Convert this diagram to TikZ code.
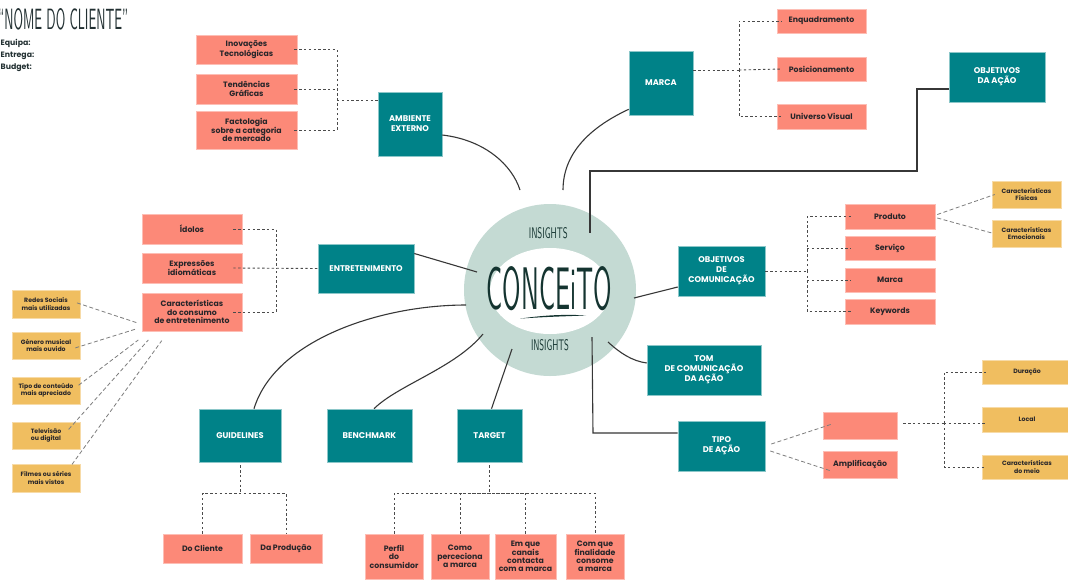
\documentclass[tikz,border=0pt]{standalone}
\usepackage{fontspec}
\setmainfont{Poppins}
\usepackage{graphicx}

\definecolor{tealc}{RGB}{0,130,136}
\definecolor{salmon}{RGB}{252,137,120}
\definecolor{mustard}{RGB}{240,190,96}
\definecolor{ringc}{RGB}{196,218,211}
\definecolor{ink}{RGB}{40,38,42}
\definecolor{headc}{RGB}{34,48,50}
\definecolor{concol}{RGB}{20,52,48}
\definecolor{linkc}{RGB}{55,55,55}
\definecolor{treec}{RGB}{75,75,75}
\definecolor{softc}{RGB}{125,125,125}

% box placed by its corners: style, name, x1, y1, x2, y2, text
\newcommand\placebox[7]{%
  \node[#1, minimum width={#5-#3}, minimum height={#6-#4}] (#2)
    at ({(#3+#5)/2},{(#4+#6)/2}) {#7};}

\begin{document}
\begin{tikzpicture}[x=1pt,y=-1pt,
  box/.style={rectangle, inner sep=0pt, align=center, line width=0.6pt},
  tealbox/.style={box, fill=tealc, draw=tealc!45!white, text=white,
    font=\fontsize{8.3}{10}\selectfont\bfseries},
  pinkbox/.style={box, fill=salmon, draw=salmon!55!white, text=ink,
    font=\fontsize{7.8}{8.4}\selectfont\bfseries},
  yelbox/.style={box, fill=mustard, draw=mustard!55!white, text=ink,
    font=\fontsize{6.2}{7.3}\selectfont\bfseries},
  link/.style={draw=linkc, line width=1.1pt},
  tree/.style={draw=treec, line width=0.9pt, dash pattern=on 2.4pt off 2.4pt},
  softdash/.style={draw=softc, line width=0.8pt, dash pattern=on 4pt off 2.5pt},
  hand/.style={inner sep=0pt, text=concol},
  headline/.style={anchor=west, inner sep=0pt, text=headc,
    font=\fontsize{7.8}{9}\selectfont\bfseries}]

\useasboundingbox (0,0) rectangle (1068,579);
\fill[white] (0,0) rectangle (1068,579);

% ---- header ----
\node[hand, anchor=north west, text=headc] (title) at (-2,8)
  {\resizebox{130pt}{21pt}{\sffamily “NOME DO CLIENTE”}};
\node[headline] (equipa) at (0.5,43.3) {Equipa:};
\node[headline] (entrega) at (0.5,55.5) {Entrega:};
\node[headline] (budget) at (0.5,67.3) {Budget:};

% ---- central ring ----
\node[circle, fill=ringc, minimum size=172pt, inner sep=0pt] (ring) at (550,290) {};
\fill[white] (550,291) ellipse [x radius=60, y radius=43];
\node[hand] (conceito) at (549.2,288.3)
  {\resizebox{125pt}{43pt}{\sffamily CONCEiTO}};
\node[hand] (insTop) at (548.3,233.3)
  {\resizebox{39pt}{11pt}{\sffamily INSIGHTS}};
\node[hand] (insBot) at (550,345)
  {\resizebox{38pt}{11pt}{\sffamily INSIGHTS}};
\fill[concol] (520,318.6) .. controls (548,314.6) and (568,314.4) .. (586,315.4)
  .. controls (568,316.3) and (548,316.6) .. (520,318.6) -- cycle;

% ---- teal topic boxes ----
\placebox{tealbox}{amb}{378}{92}{442}{156}{AMBIENTE\\EXTERNO}
\placebox{tealbox}{marca}{629}{51}{693}{115}{MARCA}
\placebox{tealbox}{objacao}{949}{52}{1045}{102}{OBJETIVOS\\DA AÇÃO}
\placebox{tealbox}{entr}{318}{244}{414}{293}{ENTRETENIMENTO}
\placebox{tealbox}{objcom}{678}{246}{765}{296}{OBJETIVOS\\DE\\COMUNICAÇÃO}
\placebox{tealbox}{tom}{647}{345}{761}{395}{TOM\\DE COMUNICAÇÃO\\DA AÇÃO}
\placebox{tealbox}{tipo}{678}{421}{765}{471}{TIPO\\DE AÇÃO}
\placebox{tealbox}{guide}{199}{409}{281}{462}{GUIDELINES}
\placebox{tealbox}{bench}{327}{409}{412}{462}{BENCHMARK}
\placebox{tealbox}{target}{457}{409}{522}{462}{TARGET}

% ---- salmon sub-topics ----
\placebox{pinkbox}{inov}{196}{35}{297}{64}{Inovações\\Tecnológicas}
\placebox{pinkbox}{tend}{196}{74}{297}{104}{Tendências\\Gráficas}
\placebox{pinkbox}{fact}{196}{111}{297}{149}{Factologia\\sobre a categoria\\de mercado}
\placebox{pinkbox}{enq}{777}{9}{866}{33}{Enquadramento}
\placebox{pinkbox}{pos}{777}{57}{866}{81}{Posicionamento}
\placebox{pinkbox}{univ}{777}{104}{866}{129}{Universo Visual}
\placebox{pinkbox}{idolos}{142}{214}{242}{244}{Ídolos}
\placebox{pinkbox}{expr}{142}{253}{242}{283}{Expressões\\idiomáticas}
\placebox{pinkbox}{carcons}{142}{293}{242}{331}{Características\\do consumo\\de entretenimento}
\placebox{pinkbox}{produto}{845}{204}{935}{229}{Produto}
\placebox{pinkbox}{servico}{845}{236}{935}{260}{Serviço}
\placebox{pinkbox}{marcab}{845}{268}{935}{292}{Marca}
\placebox{pinkbox}{keyw}{845}{299}{935}{324}{Keywords}
\placebox{pinkbox}{blank}{823}{412}{897}{439}{}
\placebox{pinkbox}{ampl}{823}{451}{897}{478}{Amplificação}
\placebox{pinkbox}{docli}{163}{534}{242}{563}{Do Cliente}
\placebox{pinkbox}{daprod}{250}{534}{322}{563}{Da Produção}
\placebox{pinkbox}{perfil}{365}{534}{423}{579}{Perfil\\do\\consumidor}
\placebox{pinkbox}{como}{431}{534}{489}{579}{Como\\perceciona\\a marca}
\placebox{pinkbox}{emque}{495}{534}{556}{579}{Em que\\canais\\contacta\\com a marca}
\placebox{pinkbox}{comque}{566}{534}{624}{579}{Com que\\finalidade\\consome\\a marca}

% ---- yellow details ----
\placebox{yelbox}{redes}{12}{290}{80}{318}{Redes Sociais\\mais utilizadas}
\placebox{yelbox}{genero}{12}{332}{80}{359}{Género musical\\mais ouvido}
\placebox{yelbox}{tipoc}{12}{377}{80}{404}{Tipo de conteúdo\\mais apreciado}
\placebox{yelbox}{tele}{12}{422}{80}{449}{Televisão\\ou digital}
\placebox{yelbox}{filmes}{12}{464}{80}{492}{Filmes ou séries\\mais vistos}
\placebox{yelbox}{carfis}{992}{181}{1061}{208}{Características\\Físicas}
\placebox{yelbox}{caremo}{992}{220}{1061}{247}{Características\\Emocionais}
\placebox{yelbox}{duracao}{982}{360}{1072}{384}{Duração}
\placebox{yelbox}{local}{982}{407}{1072}{432}{Local}
\placebox{yelbox}{carmeio}{982}{455}{1072}{479}{Características\\do meio}

% ---- points where links meet the ring ----
\coordinate (pAmb) at (520,190);
\coordinate (pMarca) at (563,190);
\coordinate (pEntr) at (477,272);
\coordinate (pGuide) at (466,305);
\coordinate (pBench) at (483,334);
\coordinate (pTarget) at (512,349);
\coordinate (pTom) at (608,342);
\coordinate (pTipo) at (592,337);
\coordinate (pTipoC) at (593,433);
\coordinate (pObjcom) at (634,298);
\coordinate (pObjacao) at (590,233);
\coordinate (oaA) at (917,171);

% ---- solid links to the ring ----
\draw[link] ([yshift=-11pt]amb.east) .. controls (485,140) and (512,165) .. (pAmb);
\draw[link] ([yshift=6pt]marca.south west) .. controls (595,125) and (563,150) .. (pMarca);
\draw[link] ([yshift=15pt]entr.east) -- (pEntr);
\draw[link] ([xshift=14pt]guide.north) .. controls (275,340) and (380,305) .. (pGuide);
\draw[link] ([xshift=4.5pt]bench.north) .. controls (398,385) and (455,368) .. (pBench);
\draw[link] ([xshift=2pt]target.north) -- (pTarget);
\draw[link] (pTom) .. controls (620,353) and (632,361) .. ([yshift=7pt]tom.west);
\draw[link] (pTipo) -- (pTipoC) -- (pTipoC -| tipo.west);
\draw[link] (pObjcom) -- ([yshift=-16pt]objcom.west);
\draw[link] ([yshift=-12pt]objacao.west) -| (oaA) -- (oaA -| pObjacao) -- (pObjacao);

% ---- dashed trees ----
\coordinate (ambJ) at (337,100);
\draw[tree] ([xshift=-3pt]inov.east) -| (ambJ);
\draw[tree] ([xshift=-3pt]fact.east) -| (ambJ);
\draw[tree] ([xshift=-3pt]tend.east) -- (tend.east -| ambJ);
\draw[tree] (ambJ) -- (ambJ -| amb.west);

\coordinate (marJ) at (739,70);
\draw[tree] (marca.east |- marJ) -- (marJ);
\draw[tree] (marJ) |- ([xshift=5pt]enq.west);
\draw[tree] (marJ) |- ([xshift=5pt]univ.west);
\draw[tree] (marJ) -- ([xshift=5pt]pos.west);

\coordinate (entJ) at (276,268.5);
\draw[tree] ([xshift=-9pt]idolos.east) -| (entJ);
\draw[tree] ([xshift=-9pt]carcons.east) -| (entJ);
\draw[tree] ([xshift=-9pt]expr.east) -- (entr.west);

\coordinate (ocJ) at (807,271);
\draw[tree] (objcom.east) -- (ocJ);
\draw[tree] (ocJ) |- ([xshift=6pt]produto.west);
\draw[tree] (ocJ) |- ([xshift=6pt]keyw.west);
\draw[tree] (ocJ |- servico.west) -- ([xshift=6pt]servico.west);
\draw[tree] (ocJ |- marcab.west) -- ([xshift=6pt]marcab.west);

\coordinate (tpJ) at (944,423);
\draw[tree] ([xshift=6pt]blank.east |- tpJ) -- (tpJ);
\draw[tree] (tpJ) |- ([xshift=4pt]duracao.west);
\draw[tree] (tpJ) |- ([xshift=4pt]carmeio.west);
\draw[tree] (tpJ) -- ([xshift=4pt]tpJ -| local.west);

\coordinate (gJ) at (240,493.3);
\draw[tree] ([yshift=-3pt]guide.south) -- (gJ);
\draw[tree] (docli.north) |- (gJ) -| (daprod.north);

\coordinate (tJ) at (489.5,493.3);
\draw[tree] ([yshift=-3pt]target.south) -- (tJ);
\draw[tree] (perfil.north) |- (tJ) -| (comque.north);
\draw[tree] (como.north) |- (tJ);
\draw[tree] (emque.north) |- (tJ);

% ---- soft dashed spokes ----
\coordinate (c1) at (136.7,322.7);
\coordinate (c2) at (135,329.3);
\coordinate (c3) at (138.3,340);
\coordinate (c4) at (148.3,340);
\coordinate (c5) at (161.7,340.7);
\draw[softdash] ([xshift=-3.3pt,yshift=1.1pt]redes.east) -- (c1);
\draw[softdash] ([xshift=-5pt,yshift=-2.4pt]genero.east) -- (c2);
\draw[softdash] ([xshift=-1.7pt,yshift=5.3pt]tipoc.east) -- (c3);
\draw[softdash] ([xshift=-11.7pt,yshift=-7.7pt]tele.north east) -- (c4);
\draw[softdash] ([xshift=-8.3pt,yshift=-0.7pt]filmes.north east) -- (c5);

\draw[softdash] ([xshift=2pt,yshift=2pt]produto.east) -- ([xshift=3pt]carfis.west);
\draw[softdash] ([xshift=2pt,yshift=-1.5pt]produto.east) -- ([xshift=2pt]caremo.west);
\draw[softdash] ([xshift=6pt,yshift=2pt]tipo.east) -- ([xshift=8pt,yshift=1pt]blank.west);
\draw[softdash] ([xshift=5pt,yshift=-5pt]tipo.east) -- ([xshift=7pt,yshift=-6pt]ampl.west);

\end{tikzpicture}
\end{document}
